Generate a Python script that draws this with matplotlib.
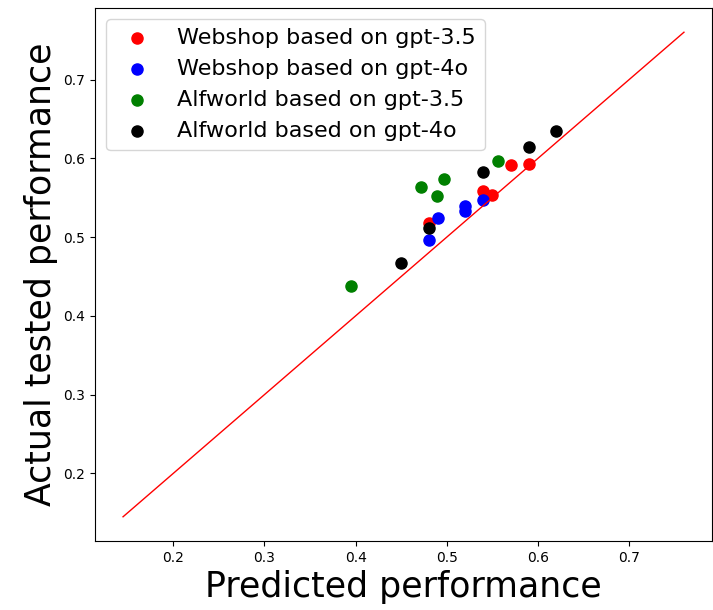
import matplotlib
matplotlib.use('Agg')
import matplotlib.pyplot as plt

# predicted vs actual performance
ws35_pred = [0.48, 0.54, 0.55, 0.57, 0.59]
ws35_act = [0.518, 0.559, 0.554, 0.591, 0.593]

ws4o_pred = [0.48, 0.49, 0.52, 0.52, 0.54]
ws4o_act = [0.496, 0.524, 0.540, 0.533, 0.547]

af35_pred = [0.395, 0.472, 0.497, 0.489, 0.556]
af35_act = [0.438, 0.563, 0.574, 0.552, 0.597]

af4o_pred = [0.45, 0.48, 0.54, 0.59, 0.62]
af4o_act = [0.467, 0.512, 0.583, 0.614, 0.635]

diag = [0.145, 0.76]

fig = plt.figure(figsize=(7.13, 6.10), dpi=100)
ax = fig.add_axes([95/713, 69/610, 617/713, 533/610])

ax.scatter(ws35_pred, ws35_act, color='red', s=64, label='Webshop based on gpt-3.5')
ax.scatter(ws4o_pred, ws4o_act, color='blue', s=64, label='Webshop based on gpt-4o')
ax.scatter(af35_pred, af35_act, color='green', s=64, label='Alfworld based on gpt-3.5')
ax.scatter(af4o_pred, af4o_act, color='black', s=64, label='Alfworld based on gpt-4o')
ax.plot(diag, diag, color='red', linewidth=1)

ax.set_xticks([0.2, 0.3, 0.4, 0.5, 0.6, 0.7])
ax.set_yticks([0.2, 0.3, 0.4, 0.5, 0.6, 0.7])
ax.set_xlabel('Predicted performance', fontsize=25)
ax.set_ylabel('Actual tested performance', fontsize=25)
ax.legend(loc='upper left', fontsize=16)

fig.savefig('out.png', dpi=100)
